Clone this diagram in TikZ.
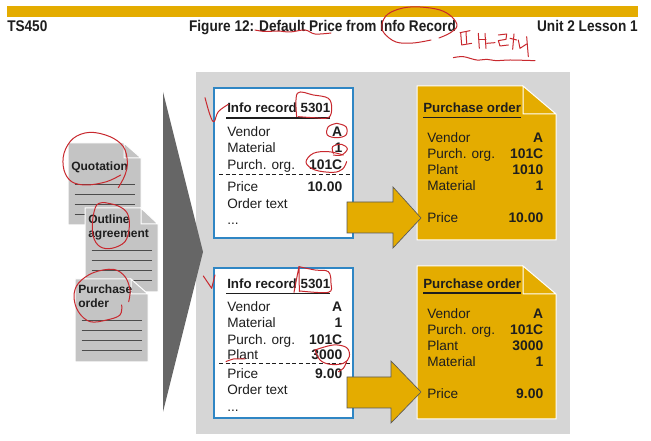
\documentclass[tikz,border=0pt]{standalone}
\usepackage{fontspec}
\setmainfont{Liberation Sans}
\newfontfamily\headfont[FakeStretch=0.88]{Liberation Sans}
\definecolor{gold}{HTML}{E4AC00}
\definecolor{panelgray}{HTML}{D6D6D6}
\definecolor{docgray}{HTML}{C4C4C4}
\definecolor{recblue}{HTML}{2F86C4}
\definecolor{pen}{HTML}{C8282E}
\definecolor{ink}{HTML}{1E1E1E}
\tikzset{
  lbl/.style={anchor=base west,inner sep=0pt,font=\fontsize{10.2}{12}\selectfont,text=ink},
  val/.style={anchor=base east,inner sep=0pt,font=\fontsize{10.4}{12}\selectfont\bfseries,text=ink},
  ttl/.style={anchor=base west,inner sep=0pt,font=\fontsize{10}{12}\selectfont\bfseries,text=ink},
  head/.style={inner sep=0pt,font=\headfont\fontsize{11.6}{13}\selectfont\bfseries,text=ink},
  doctxt/.style={anchor=base west,inner sep=0pt,font=\fontsize{9}{11}\selectfont\bfseries,text=ink},
  docline/.style={draw=black!70,line width=0.6pt},
  redpen/.style={draw=pen,line width=0.75pt,line cap=round,line join=round},
  blockarrow/.style={fill=gold,draw=black!65,line width=0.5pt},
  zoomed/.style={x=0.25pt,y=-0.25pt}
}
\newcommand{\docsheet}[7]{% x0,y0,x1,y1,foldx,foldy,firstline
  \fill[docgray] (#1,#2) -- (#5,#2) -- (#5,#6) -- (#3,#6) -- (#3,#4) -- (#1,#4) -- cycle;
  \fill[docgray] (#5,#2) -- (#3,#6) -- (#5,#6) -- cycle;
  \draw[white,line width=0.75pt] (#5,#2) -- (#1,#2) -- (#1,#4) -- (#3,#4) -- (#3,#6) -- (#5,#2) -- (#5,#6) -- (#3,#6);
  \foreach \k in {0,1,2,3} \draw[docline] (#1+6.5,#7+\k*10) -- (#1+67,#7+\k*10);
}
\newcommand{\posheet}[3]{% y0,y1,foldy
  \fill[gold] (417,#1) -- (523,#1) -- (556,#3) -- (556,#2) -- (417,#2) -- cycle;
  \draw[white,line width=0.75pt] (523,#1) -- (417,#1) -- (417,#2) -- (556,#2) -- (556,#3) -- (523,#1) -- (523,#3) -- (556,#3);
}
\newcommand{\stroke}[1]{\draw[redpen] plot[smooth,tension=0.6] coordinates {#1};}
\newcommand{\straight}[1]{\draw[redpen] plot coordinates {#1};}
\begin{document}
\begin{tikzpicture}[x=0.75pt,y=-0.75pt]
\useasboundingbox (0,0) rectangle (651,441);
\fill[white] (0,0) rectangle (651,441);
% header
\fill[gold] (6.5,6) rectangle (638,17.5);
\node[head,anchor=base west] (hl) at (7,32) {TS450};
\node[head,anchor=base] (hm) at (322.5,32) {Figure 12: Default Price from Info Record};
\node[head,anchor=base east] (hr) at (638,32) {Unit 2 Lesson 1};
% panel
\fill[panelgray] (196,72) rectangle (570,434);
% triangle
\fill[black!60] (163,92) -- (203,252) -- (163,412) -- cycle;
% documents
\docsheet{68}{143}{141}{225}{124}{158}{184}
\node[doctxt] (q) at (71,171) {Quotation};
\docsheet{85}{208}{158}{292}{141}{224}{250}
\node[doctxt] (oa1) at (88,223.5) {Outline};
\node[doctxt] (oa2) at (88,238) {agreement};
\docsheet{75}{279}{148}{362}{131}{294}{320}
\node[doctxt] (po1) at (78,294) {Purchase};
\node[doctxt] (po2) at (78,308) {order};
% info record 1
\draw[recblue,line width=1.5pt,fill=white] (214,88) rectangle (353,238);
\node[ttl] (t1) at (227,113) {Info record 5301};
\draw[ink,line width=1pt] (226,118) -- (330,118);
\foreach \n/\y/\l/\v in {a/137/Vendor/A,b/153/Material/1,c/169.5/Purch. org./101C,d/192/Price/10.00}{
  \node[lbl] (r1\n) at (227,\y) {\l};
  \node[val] (v1\n) at (342.5,\y) {\v};
}
\node[lbl] (r1e) at (227,208.5) {Order text};
\node[lbl] (r1f) at (227,225) {...};
\draw[ink,densely dashed,line width=0.5pt] (219,174.5) -- (350,174.5);
% info record 2
\draw[recblue,line width=1.5pt,fill=white] (214,268) rectangle (353,418);
\node[ttl] (t2) at (227,288.5) {Info record 5301};
\draw[ink,line width=1pt] (226,293.5) -- (330,293.5);
\foreach \n/\y/\l/\v in {a/312/Vendor/A,b/328/Material/1,c/344.5/Purch. org./101C,d/360/Plant/3000,e/379/Price/9.00}{
  \node[lbl] (r2\n) at (227,\y) {\l};
  \node[val] (v2\n) at (342.5,\y) {\v};
}
\node[lbl] (r2f) at (227,395) {Order text};
\node[lbl] (r2g) at (227,412) {...};
\draw[ink,densely dashed,line width=0.5pt] (219,363) -- (350,363);
% purchase orders
\posheet{86}{240}{114}
\node[ttl] (p1) at (423,112.5) {Purchase order};
\draw[ink,line width=1pt] (423,117.5) -- (521,117.5);
\foreach \n/\y/\l/\v in {a/142.5/Vendor/A,b/158.5/Purch. org./101C,c/174.5/Plant/1010,d/190.5/Material/1,e/222.5/Price/10.00}{
  \node[lbl] (q1\n) at (427,\y) {\l};
  \node[val] (w1\n) at (543.5,\y) {\v};
}
\posheet{266}{419}{294}
\node[ttl] (p2) at (423,288.5) {Purchase order};
\draw[ink,line width=1pt] (423,293) -- (521,293);
\foreach \n/\y/\l/\v in {a/318.5/Vendor/A,b/334.5/Purch. org./101C,c/350.5/Plant/3000,d/366.5/Material/1,e/398.5/Price/9.00}{
  \node[lbl] (q2\n) at (427,\y) {\l};
  \node[val] (w2\n) at (543.5,\y) {\v};
}
% block arrows
\draw[blockarrow] (347,202) -- (393,202) -- (393,187) -- (421,218) -- (393,248) -- (393,233) -- (347,233) -- cycle;
\draw[blockarrow] (347,377) -- (391,377) -- (391,361) -- (421,392) -- (391,423) -- (391,408) -- (347,408) -- cycle;
% pen marks: header
\stroke{(431,40) (413,43) (396,42) (384,33) (382,24) (388,14) (403,8) (420,7) (440,10) (452,17) (457,26) (450,33) (439,38)}
\stroke{(255,30) (265,31.5) (278,31) (290,32) (305,30) (315,34) (331,33)}
\begin{scope}[shift={(370,10)},zoomed]
  \straight{(270,68) (300,62)}
  \straight{(272,68) (275,105) (305,100)}
  \straight{(288,66) (290,100)}
  \straight{(325,70) (328,115)}
  \straight{(345,70) (348,115)}
  \straight{(328,90) (348,90)}
  \straight{(350,100) (375,98)}
  \straight{(385,75) (410,72) (408,88) (385,92) (390,108) (415,105)}
  \straight{(420,85) (440,90)}
  \straight{(432,72) (428,118)}
  \straight{(445,90) (450,115) (470,102)}
  \straight{(470,80) (475,140)}
  \stroke{(250,143) (280,140) (320,150) (350,148) (380,152) (420,150) (495,152)}
\end{scope}
% pen marks: documents
\begin{scope}[shift={(50,120)},zoomed]
  \stroke{(205,203) (225,165) (232,125) (220,80) (180,50) (120,37) (70,55) (42,100) (42,150) (65,185) (110,195) (170,185) (212,165)}
  \stroke{(165,248) (140,255) (128,300) (130,350) (150,380) (185,385) (225,365) (238,320) (232,280) (205,258) (165,248)}
  \stroke{(215,555) (210,585) (170,600) (120,605) (85,575) (72,530) (85,490) (130,458) (190,448) (225,470) (240,510) (236,545)}
\end{scope}
% pen marks: first record
\begin{scope}[shift={(200,75)},zoomed]
  \stroke{(15,68) (30,120) (42,140) (55,110) (85,88)}
  \stroke{(290,125) (292,55) (340,60) (385,70) (395,100) (385,128) (340,128) (295,125)}
  \stroke{(410,145) (385,155) (382,180) (410,188) (438,180) (438,155) (410,145)}
  \stroke{(400,235) (398,215) (425,208) (442,222) (425,240) (400,240)}
  \stroke{(430,240) (385,230) (340,235) (318,262) (345,285) (400,292) (428,282) (440,260)}
\end{scope}
% pen marks: second record
\begin{scope}[shift={(200,255)},zoomed]
  \straight{(10,63) (35,100) (45,60)}
  \straight{(282,112) (292,60) (297,35) (298,110)}
  \stroke{(297,35) (345,45) (385,50) (393,85) (385,112) (300,108)}
  \stroke{(345,285) (400,270) (440,278) (448,305) (430,325) (390,328) (360,315) (345,285)}
  \stroke{(415,350) (430,340) (440,320)}
  \stroke{(78,320) (100,312) (135,312)}
\end{scope}
\end{tikzpicture}
\end{document}
